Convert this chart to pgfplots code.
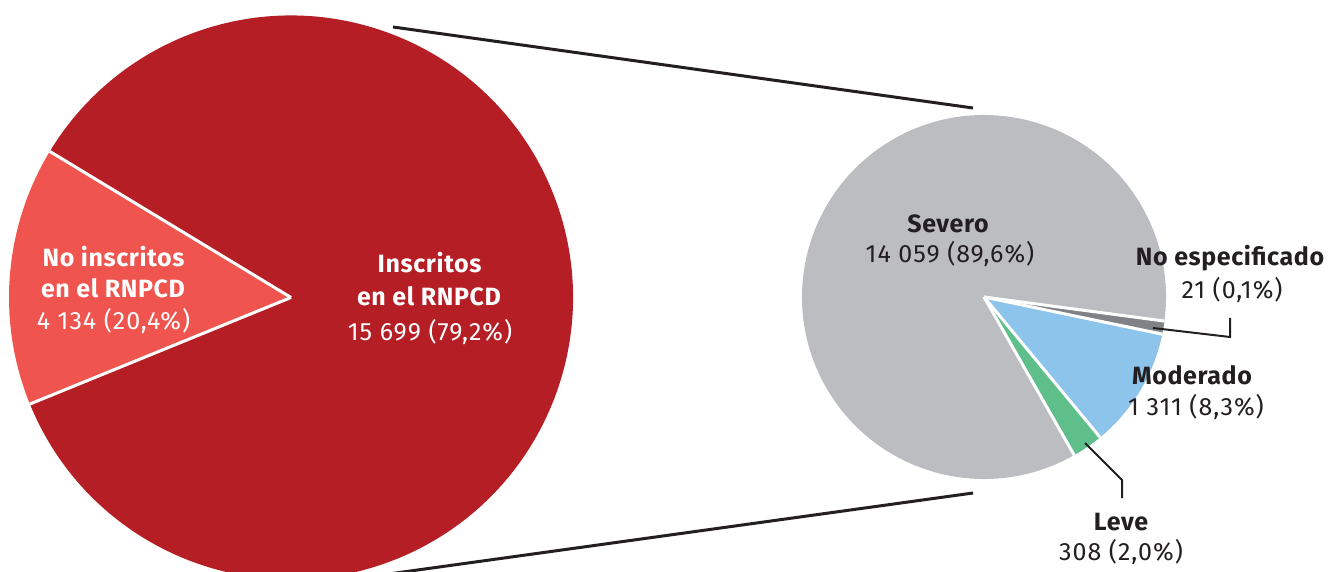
\documentclass[border=0pt]{standalone}
\usepackage{fontspec}
\setmainfont{Fira Sans}
\usepackage{pgfplots}
\pgfplotsset{compat=1.18}
\definecolor{cDarkRed}{HTML}{B51E25}
\definecolor{cLightRed}{HTML}{F0544F}
\definecolor{cGray}{HTML}{BCBDC0}
\definecolor{cDarkGray}{HTML}{808285}
\definecolor{cBlue}{HTML}{8DC4EB}
\definecolor{cGreen}{HTML}{5FBF8B}
\definecolor{cText}{HTML}{231F20}
% slice: center x, center y, radius, start angle, end angle, colour
\newcommand{\slice}[6]{\fill[#6] (axis cs:#1,#2) -- ++(#4:#3pt) arc[start angle=#4, end angle=#5, radius=#3pt] -- cycle;}
\newcommand{\sep}[4]{\draw[white, line width=#4pt] (axis cs:#1,#2) -- ++(#3:300pt);}
\newcommand{\lbl}{\fontsize{25}{29}\selectfont\bfseries\addfontfeature{LetterSpace=2.5}}
\newcommand{\num}{\fontsize{25}{29}\selectfont\addfontfeature{LetterSpace=4}}
\begin{document}
\begin{tikzpicture}
\begin{axis}[name=ax, x=1pt, y=1pt, xmin=0, xmax=1333, ymin=0, ymax=571,
  hide axis, clip=false, anchor=south west, at={(0,0)}]
\begin{scope}
\clip (axis cs:0,0) rectangle (axis cs:1333,571);
% main pie: Inscritos 15 699 (79,2%), No inscritos 4 134 (20,4%)
\slice{291}{273.5}{282}{202.2}{508.8}{cDarkRed}
\slice{291}{273.5}{282}{148.8}{202.2}{cLightRed}
\begin{scope}
\clip (axis cs:291,273.5) circle[radius=282pt];
\sep{291}{273.5}{148.8}{3}
\sep{291}{273.5}{202.2}{3}
\end{scope}
% second pie: Severo 14 059, No especificado 21, Moderado 1 311, Leve 308
\slice{984}{274}{182}{-60.3}{352.4}{cGray}
\slice{984}{274}{182}{-11.2}{-7.6}{cDarkGray}
\slice{984}{274}{182}{-50.4}{-11.4}{cBlue}
\slice{984}{274}{182}{-60.3}{-50.4}{cGreen}
\begin{scope}
\clip (axis cs:984,274) circle[radius=182pt];
\sep{984}{274}{-7.6}{3}
\sep{984}{274}{-11.8}{3}
\sep{984}{274}{-50.4}{3}
\sep{984}{274}{-60.3}{3}
\end{scope}
% connector lines
\addplot[draw=cText, line width=3pt] coordinates {(393,544) (973,463)};
\addplot[draw=cText, line width=3pt] coordinates {(380,-4.2) (973,78)};
% leader lines
\addplot[draw=cText, line width=2pt] coordinates {(1153,243) (1230,234) (1230,253)};
\addplot[draw=cText, line width=2pt] coordinates {(1085,128) (1122,91) (1122,73)};
\end{scope}
% labels
\begin{scope}[every node/.style={inner sep=0pt, anchor=base}]
\node[text=white] at (axis cs:429.5,298) {\lbl Inscritos};
\node[text=white] at (axis cs:429,265) {\lbl en el RNPCD};
\node[text=white] at (axis cs:430,231) {\num 15 699 (79,2\%)};
\node[text=white] at (axis cs:113.5,304) {\lbl No inscritos};
\node[text=white] at (axis cs:113,273) {\lbl en el RNPCD};
\node[text=white] at (axis cs:113.5,241) {\num 4 134 (20,4\%)};
\node[text=cText] at (axis cs:948,338) {\lbl Severo};
\node[text=cText] at (axis cs:950,308) {\num 14 059 (89,6\%)};
\node[text=cText] at (axis cs:1230,305) {\lbl No especificado};
\node[text=cText] at (axis cs:1232,272) {\num 21 (0,1\%)};
\node[text=cText] at (axis cs:1192,187) {\lbl Moderado};
\node[text=cText] at (axis cs:1196,156) {\num 1 311 (8,3\%)};
\node[text=cText] at (axis cs:1121,41) {\lbl Leve};
\node[text=cText] at (axis cs:1121,11) {\num 308 (2,0\%)};
\end{scope}
\end{axis}
\pgfresetboundingbox
\useasboundingbox (ax.south west) rectangle (ax.north east);
\end{tikzpicture}
\end{document}
